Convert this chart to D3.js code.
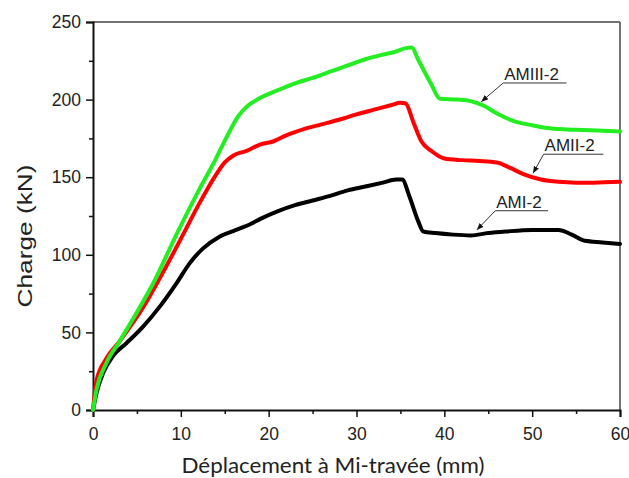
<!DOCTYPE html>
<html><head><meta charset="utf-8">
<script src="https://cdn.jsdelivr.net/npm/d3@7"></script>
<style>
html,body{margin:0;padding:0;background:#fff;}
svg{display:block;}
</style></head>
<body>
<svg id="chart" width="629" height="478"></svg>
<script>
// ---- data ----
const xTicks = [0,10,20,30,40,50,60];
const yTicks = [0,50,100,150,200,250];

const amiii_x = [0,0.4,1.5,3,4.9,6.8,9.5,12,14,15.5,16.5,17.5,19,21,23,25,27,29,31,33,34.5,35.5,36.3,37,38.5,39.5,41.5,43,44.5,46,48,50,52,55,58,60];
const amiii_y = [0,13,30,44,62,81,113,141,162,179,189,195.5,201,206,210.5,214,218,222,226,229,231,233,233.5,226,210,200.5,200,199,196,191,186,183.5,181.5,180.5,180,179.5];

const amii_x = [0,0.4,1.5,3,5.7,8,10.25,12,14,15,16,17.5,19,20.5,22,24,26,28,30,32,34,35,35.6,36.5,37.4,38.5,40,42,44,46,47.5,49,51,53,55,57,60];
const amii_y = [0,19,33,44,66,89,113,132,151.5,159.5,164,167,171,173,177,181,184,187,190.5,193.5,196.5,198,197.5,185,173,167,162,161,160.5,159.5,156,152,148.5,147,146.5,146.5,147];

const ami_x = [0,0.4,1.14,2.3,3.8,5.7,7.6,9.5,11,12.5,14.4,16.3,18,19,21,23,25,27,29,31,33,34.5,35.2,36,37,37.6,39,41,43,45,47,50,53,54.5,56,58,60];
const ami_y = [0,11,23.6,35,43,53.7,66.6,81.6,94.5,104,111.7,116,120,123,128,132,135,138,141.5,144,146.5,148.5,148.5,138,122,115,114,113,112.5,114,115,116,116,113,109,108,107];

const seriesNames = ["AMI-2","AMII-2","AMIII-2"];
const seriesColors = ["#000000","#ff0000","#22ee22"];
const seriesX = [ami_x, amii_x, amiii_x];
const seriesY = [ami_y, amii_y, amiii_y];

// annotation: label start (x,y), underline end x, arrow tip (x,y)
const annLabelX = [45.8, 51.3, 46.7];
const annLabelY = [128.4, 164.8, 210.7];
const annLineEndX = [51.8, 58.1, 53.9];
const annTipX = [43.7, 50.1, 44.2];
const annTipY = [116, 152.5, 198.6];

// ---- layout ----
const svg = d3.select("#chart");
const L = 93, R = 620, T = 22, B = 410;
const x = d3.scaleLinear().domain([0,60]).range([L,R]);
const y = d3.scaleLinear().domain([0,250]).range([B,T]);

// frame top/right
svg.append("line").attr("x1",L).attr("x2",R).attr("y1",T).attr("y2",T).attr("stroke","#444").attr("stroke-width",1.5);
svg.append("line").attr("x1",R).attr("x2",R).attr("y1",T).attr("y2",B).attr("stroke","#444").attr("stroke-width",1.5);

const tickFont = "'Liberation Sans', Arial, sans-serif";

// x axis
const xAxis = svg.append("g").attr("transform",`translate(0,${B})`)
  .call(d3.axisBottom(x).tickValues(xTicks).tickFormat(d3.format("d")).tickSize(7).tickPadding(4));
svg.append("g").attr("transform",`translate(0,${B})`)
  .call(d3.axisBottom(x).tickValues(d3.range(5,60,10)).tickFormat("").tickSize(4))
  .select(".domain").remove();
// y axis
const yAxis = svg.append("g").attr("transform",`translate(${L},0)`)
  .call(d3.axisLeft(y).tickValues(yTicks).tickFormat(d3.format("d")).tickSize(7).tickPadding(5));
svg.append("g").attr("transform",`translate(${L},0)`)
  .call(d3.axisLeft(y).tickValues(d3.range(25,250,50)).tickFormat("").tickSize(4))
  .select(".domain").remove();

svg.selectAll(".domain").attr("stroke","#111").attr("stroke-width",2);
svg.selectAll(".tick line").attr("stroke","#111").attr("stroke-width",1.5);
svg.selectAll(".tick text").attr("font-family",tickFont).attr("font-size",17.5).attr("fill","#222");
xAxis.selectAll(".tick text").attr("y",null).attr("dy",null).attr("y",30);

// series
const line = d3.line().x(d=>x(d[0])).y(d=>y(d[1])).curve(d3.curveMonotoneX);
seriesNames.forEach((n,i)=>{
  const pts = seriesX[i].map((v,j)=>[v, seriesY[i][j]]);
  svg.append("path").datum(pts).attr("d",line)
    .attr("fill","none").attr("stroke",seriesColors[i]).attr("stroke-width",4)
    .attr("stroke-linejoin","round").attr("stroke-linecap","round");
});

// annotations
const defs = svg.append("defs");
defs.append("marker").attr("id","arr").attr("viewBox","0 0 10 10").attr("refX",10).attr("refY",5)
  .attr("markerWidth",7).attr("markerHeight",7).attr("orient","auto").attr("markerUnits","userSpaceOnUse")
  .append("path").attr("d","M0,1 L10,5 L0,9 Z").attr("fill","#111");

seriesNames.forEach((n,i)=>{
  const lx = x(annLabelX[i]), ly = y(annLabelY[i]);
  svg.append("line").attr("x1",lx).attr("x2",x(annLineEndX[i])).attr("y1",ly).attr("y2",ly)
    .attr("stroke","#333").attr("stroke-width",1);
  svg.append("line").attr("x1",lx).attr("y1",ly).attr("x2",x(annTipX[i])).attr("y2",y(annTipY[i]))
    .attr("stroke","#333").attr("stroke-width",1).attr("marker-end","url(#arr)");
  svg.append("text").attr("x",lx+1).attr("y",ly-3).text(n)
    .attr("font-family",tickFont).attr("font-size",17).attr("fill","#222");
});

// axis titles
const titleFont = "Lato, 'Open Sans', sans-serif";
svg.append("text").attr("x",333).attr("y",473).attr("text-anchor","middle")
  .attr("font-family",titleFont).attr("font-size",21.5).attr("fill","#222")
  .attr("textLength",303).attr("lengthAdjust","spacingAndGlyphs")
  .text("Déplacement à Mi-travée (mm)");
svg.append("text").attr("transform",`translate(32,236) rotate(-90)`).attr("text-anchor","middle")
  .attr("font-family",tickFont).attr("font-size",21).attr("fill","#222")
  .attr("textLength",143).attr("lengthAdjust","spacingAndGlyphs")
  .text("Charge (kN)");
</script>
</body></html>
